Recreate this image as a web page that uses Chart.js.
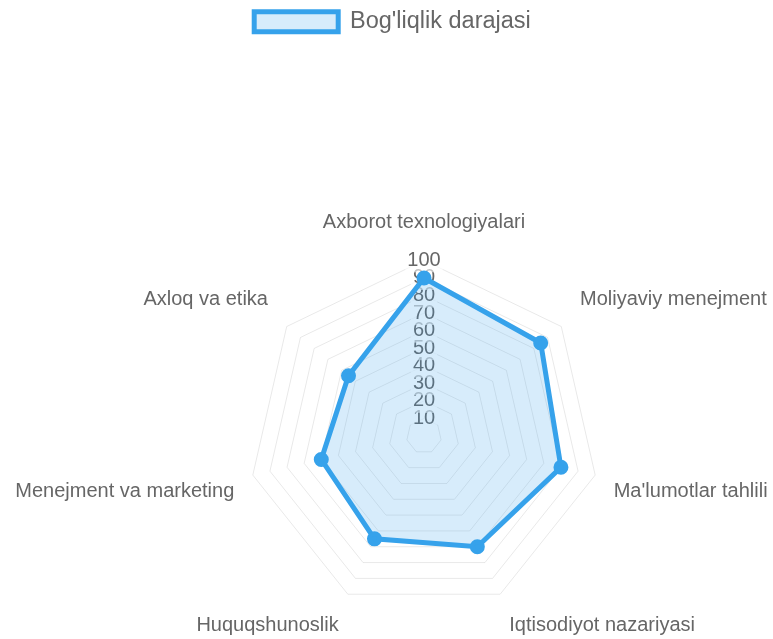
<!DOCTYPE html>
<html>
<head>
<meta charset="utf-8">
<script src="https://cdn.jsdelivr.net/npm/chart.js@4.4.1/dist/chart.umd.min.js"></script>
<style>
  html, body { margin: 0; padding: 0; background: #fff; overflow: hidden; width: 773px; height: 639px; }
  /* canvas is a little bigger than the window so the side labels reach the edges */
  #chart { display: block; margin-left: -17px; }
</style>
</head>
<body>
<canvas id="chart" width="819" height="675"></canvas>
<script>
const subjects = [
    "Axborot texnologiyalari",
    "Moliyaviy menejment",
    "Ma'lumotlar tahlili",
    "Iqtisodiyot nazariyasi",
    "Huquqshunoslik",
    "Menejment va marketing",
    "Axloq va etika"
];
const seriesName = "Bog'liqlik darajasi";
const relevance = [90, 85, 80, 70, 65, 60, 55];
const tickValues = [0, 10, 20, 30, 40, 50, 60, 70, 80, 90, 100];

// gap between the outer ring and each subject label
const labelGaps = [14, 12, 7, 9, 9, 7, 12];

Chart.defaults.font.family = "'Liberation Sans', Arial, sans-serif";
Chart.defaults.color = '#666';

// the legend sits alone at the top, the radar starts lower down
const legendSpace = {
    id: 'legendSpace',
    beforeInit(chart) {
        const fit = chart.legend.fit;
        chart.legend.fit = function () {
            fit.bind(chart.legend)();
            this.height = 169;
        };
    }
};

let ctx = document.getElementById('chart');
let chart = new Chart(ctx, {
    type: 'radar',
    data: {
        labels: subjects,
        datasets: [{
            label: seriesName,
            data: relevance,
            backgroundColor: 'rgba(54, 162, 235, 0.2)',
            borderColor: 'rgb(54, 162, 235)',
            borderWidth: 5,
            pointRadius: 5,
            pointBackgroundColor: 'rgb(54, 162, 235)',
            pointBorderColor: 'rgb(54, 162, 235)'
        }]
    },
    plugins: [legendSpace],
    options: {
        responsive: false,
        animation: false,
        plugins: {
            legend: {
                labels: {
                    boxWidth: 84,
                    boxHeight: 20,
                    font: { size: 23.5 },
                    color: '#666'
                }
            },
            tooltip: { enabled: false }
        },
        scales: {
            r: {
                min: tickValues[0],
                max: tickValues[tickValues.length - 1],
                angleLines: { display: false },
                grid: { color: 'rgba(0, 0, 0, 0.09)' },
                ticks: {
                    stepSize: tickValues[1] - tickValues[0],
                    font: { size: 20 },
                    color: '#666',
                    backdropColor: 'rgba(255, 255, 255, 0.6)'
                },
                pointLabels: {
                    font: { size: 20 },
                    color: '#666',
                    padding: function (c) { return labelGaps[c.index]; }
                }
            }
        }
    }
});
</script>
</body>
</html>
